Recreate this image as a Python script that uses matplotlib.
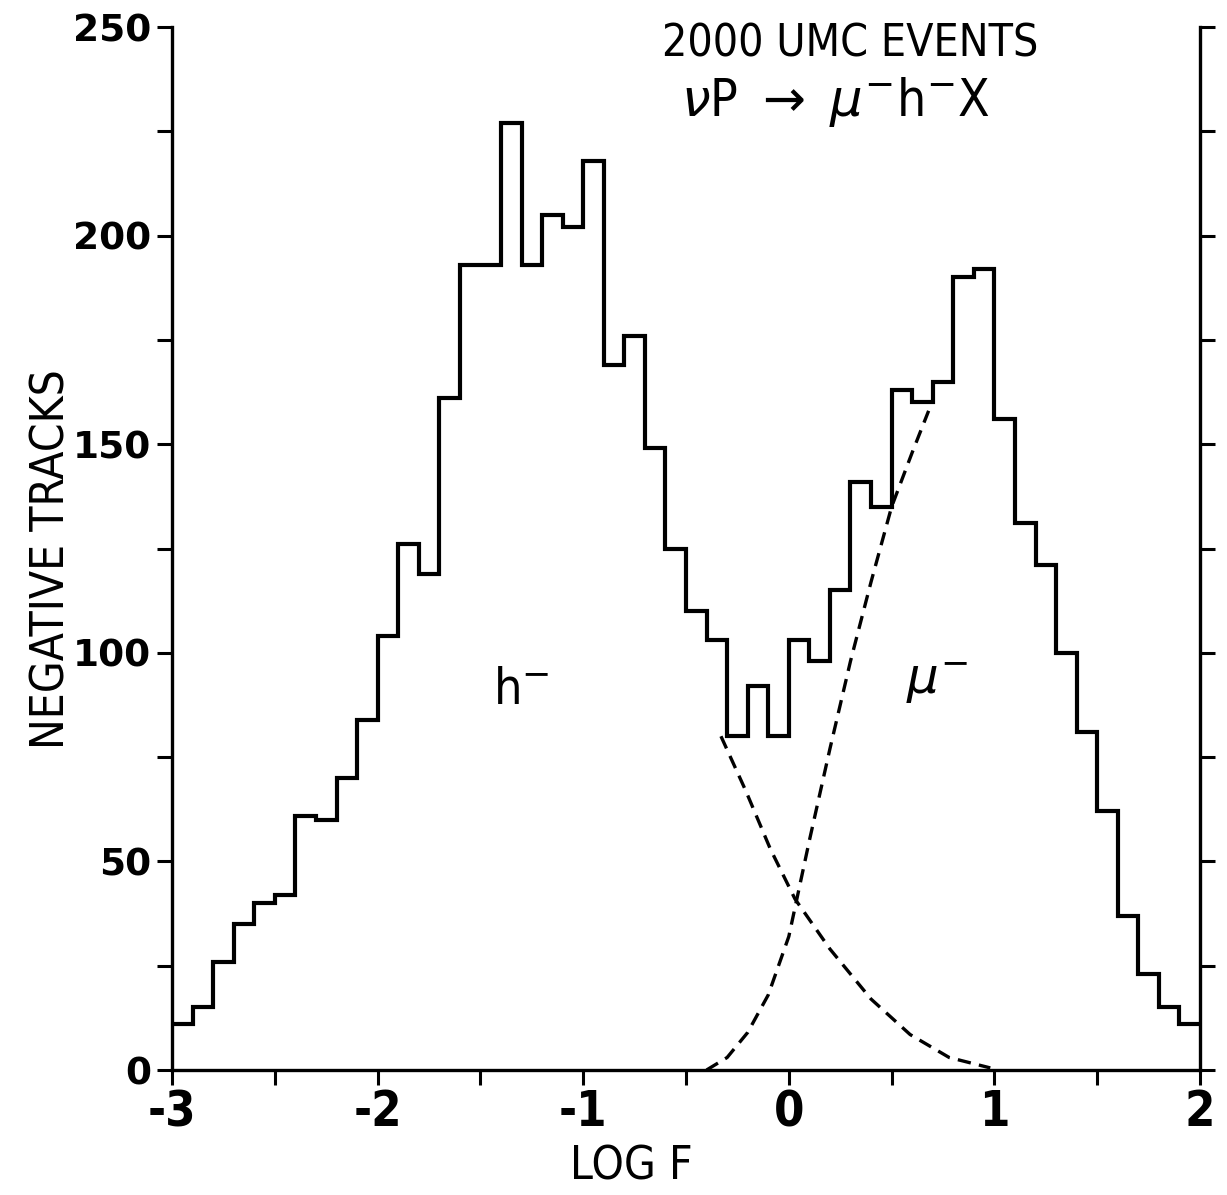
import numpy as np
import matplotlib.pyplot as plt
from matplotlib.ticker import MultipleLocator

plt.rcParams['mathtext.fontset'] = 'dejavusans'

# histogram of log F, 50 bins of 0.1 from -3 to 2
bin_edges = np.linspace(-3.0, 2.0, 51)
counts = [11, 15, 26, 35, 40, 42, 61, 60, 70, 84,
          104, 126, 119, 161, 193, 193, 227, 193, 205, 202,
          218, 169, 176, 149, 125, 110, 103, 80, 92, 80,
          103, 98, 115, 141, 135, 163, 160, 165, 190, 192,
          156, 131, 121, 100, 81, 62, 37, 23, 15, 11]

# dashed curves
h_x = [-0.33, -0.21, -0.09, 0.03, 0.20, 0.40, 0.59, 0.78, 0.98]
h_y = [80, 67, 53, 41, 29, 17, 8.5, 3, 0.5]
mu_x = [-0.40, -0.30, -0.20, -0.10, 0.00, 0.10, 0.20, 0.30, 0.40, 0.50, 0.60, 0.68]
mu_y = [0, 3, 9, 18, 32, 55, 77, 98, 117, 135, 148, 158]

narrow = dict(family='DejaVu Sans', fontstretch='condensed')

fig = plt.figure(figsize=(12.27, 11.95), dpi=100)
ax = fig.add_axes([0.1402, 0.1046, 0.8378, 0.8728])

ax.stairs(counts, bin_edges, baseline=None, color='black', linewidth=3.0)
ax.plot(h_x, h_y, color='black', linestyle=(0, (4, 2.5)), linewidth=2.4)
ax.plot(mu_x, mu_y, color='black', linestyle=(0, (4, 2.5)), linewidth=2.4)

ax.set_xlim(-3, 2)
ax.set_ylim(0, 250)

ax.spines['top'].set_visible(False)
for s in ['left', 'right', 'bottom']:
    ax.spines[s].set_linewidth(2.4)

ax.xaxis.set_major_locator(MultipleLocator(1))
ax.xaxis.set_minor_locator(MultipleLocator(0.5))
ax.yaxis.set_major_locator(MultipleLocator(50))
ax.yaxis.set_minor_locator(MultipleLocator(25))
ax.tick_params(which='both', direction='out', length=11, width=2.2,
               left=True, right=True, top=False, bottom=True)
ax.tick_params(axis='y', which='major', pad=4)
ax.tick_params(axis='x', which='major', pad=2)

ax.set_xticks([-3, -2, -1, 0, 1, 2])
ax.set_xticklabels(['-3', '-2', '-1', '0', '1', '2'], fontsize=35,
                   fontweight='bold', **narrow)
ax.set_yticks([0, 50, 100, 150, 200, 250])
ax.set_yticklabels(['0', '50', '100', '150', '200', '250'],
                   fontsize=27, fontweight='bold')

ax.set_xlabel('LOG F', fontsize=33, **narrow)
ax.xaxis.set_label_coords(0.447, -0.071)
ax.set_ylabel('NEGATIVE TRACKS', fontsize=33, **narrow)
ax.yaxis.set_label_coords(-0.095, 0.49)

ax.text(0.30, 246, '2000 UMC EVENTS', fontsize=32, ha='center', va='center',
        **narrow)
ax.text(0.225, 232, r'$\nu$P $\rightarrow$ $\mu^{-}$h$^{-}$X', fontsize=37,
        ha='center', va='center', **narrow)
ax.text(-1.30, 91, 'h$^{-}$', fontsize=36, ha='center', va='center', **narrow)
ax.text(0.72, 93, r'$\mu^{-}$', fontsize=36, ha='center', va='center', **narrow)

fig.savefig('out.png', dpi=100, facecolor='white')
